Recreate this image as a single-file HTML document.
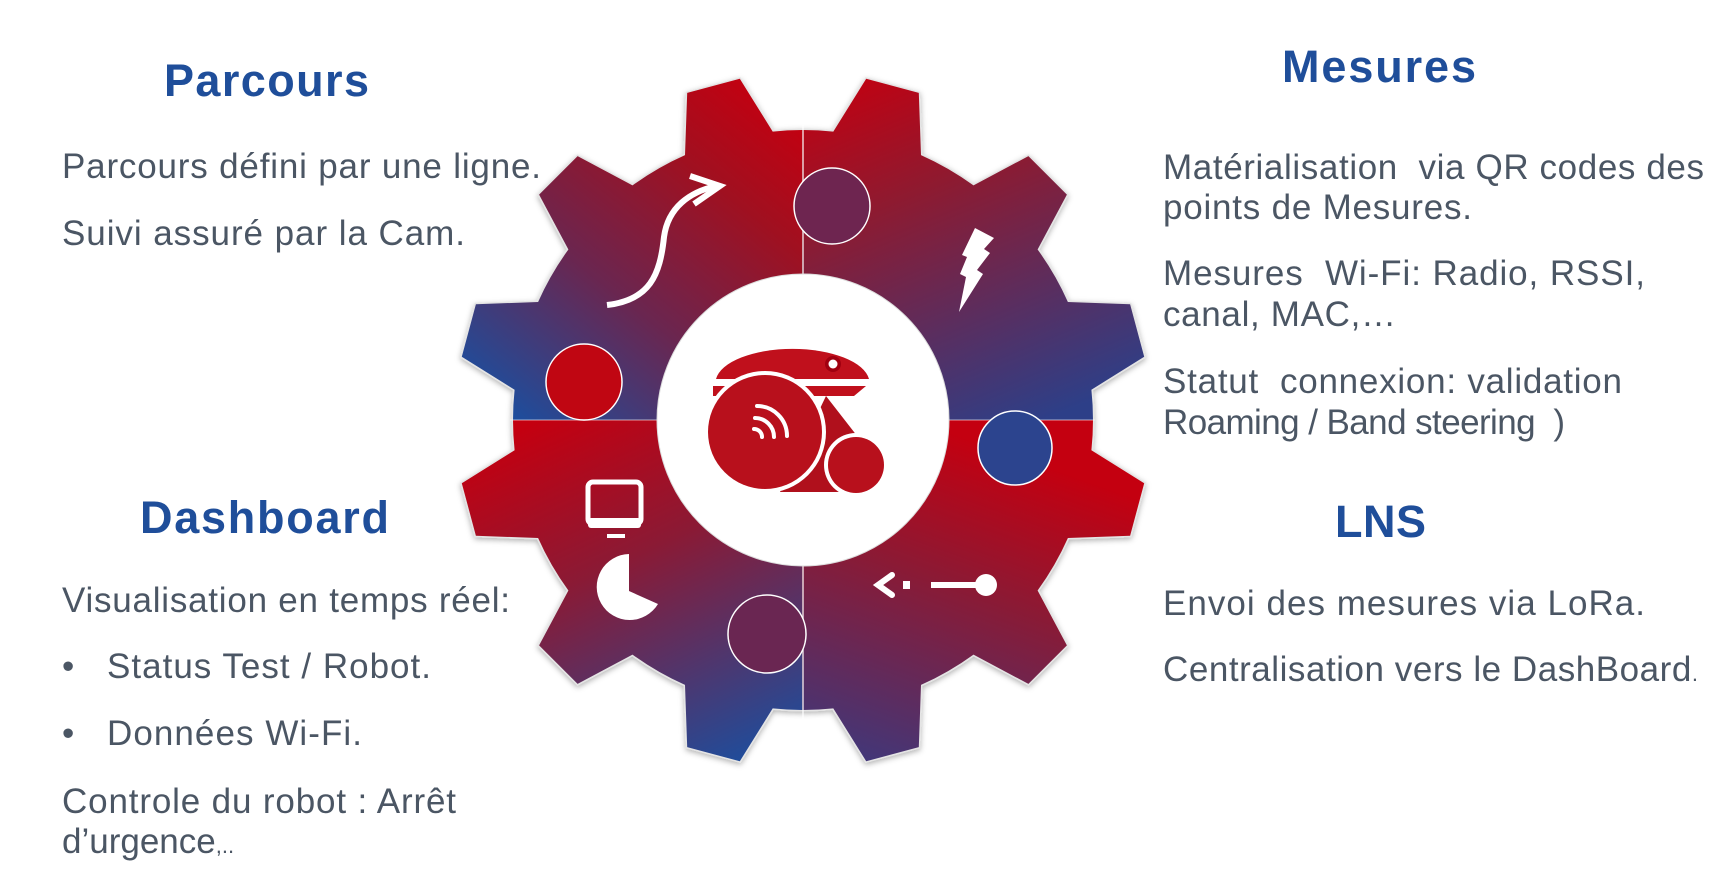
<!DOCTYPE html>
<html><head><meta charset="utf-8"><style>
html,body{margin:0;padding:0;background:#fff;}
svg{display:block;}
.t{font-family:"Liberation Sans",Arial,sans-serif;font-weight:bold;font-size:45px;fill:#1f4e9a;}
.b{font-family:"Liberation Sans",Arial,sans-serif;font-size:35px;fill:#4b5664;white-space:pre;}
</style></head><body>
<svg id="s" width="1714" height="874" viewBox="0 0 1714 874" xmlns="http://www.w3.org/2000/svg">
<defs>
<linearGradient id="gTL" gradientUnits="userSpaceOnUse" x1="740" y1="70" x2="480" y2="400"><stop offset="0" stop-color="#c40010"/><stop offset="0.25" stop-color="#a01020"/><stop offset="0.6" stop-color="#6a2650"/><stop offset="1" stop-color="#1a4fa0"/></linearGradient>
<linearGradient id="gTR" gradientUnits="userSpaceOnUse" x1="870" y1="60" x2="1020" y2="430"><stop offset="0" stop-color="#c40010"/><stop offset="0.35" stop-color="#8e1a30"/><stop offset="1" stop-color="#2d3f88"/></linearGradient>
<linearGradient id="gBR" gradientUnits="userSpaceOnUse" x1="1000" y1="450" x2="880" y2="790"><stop offset="0" stop-color="#c40010"/><stop offset="0.4" stop-color="#8a1a35"/><stop offset="1" stop-color="#3a3a80"/></linearGradient>
<linearGradient id="gBL" gradientUnits="userSpaceOnUse" x1="540" y1="420" x2="710" y2="790"><stop offset="0" stop-color="#c40010"/><stop offset="0.4" stop-color="#8a1a35"/><stop offset="1" stop-color="#1a4fa0"/></linearGradient>
<clipPath id="cTL"><rect x="0" y="0" width="802" height="420"/></clipPath>
<clipPath id="cTR"><rect x="802" y="0" width="900" height="420"/></clipPath>
<clipPath id="cBR"><rect x="802" y="420" width="900" height="500"/></clipPath>
<clipPath id="cBL"><rect x="0" y="420" width="802" height="500"/></clipPath>
<filter id="sh" x="-10%" y="-10%" width="120%" height="120%"><feDropShadow dx="0" dy="2" stdDeviation="3" flood-color="#000" flood-opacity="0.3"/></filter>
</defs>
<g id="gear"></g>

<text class="t" x="164" y="96" textLength="205">Parcours</text>
<text class="b" x="62" y="178" textLength="479">Parcours défini par une ligne.</text>
<text class="b" x="62" y="245" textLength="403">Suivi assuré par la Cam.</text>
<text class="t" x="140" y="533" textLength="249">Dashboard</text>
<text class="b" x="62" y="612" textLength="448">Visualisation en temps réel:</text>
<text class="b" x="62" y="678">•</text>
<text class="b" x="107" y="678" textLength="324">Status Test / Robot.</text>
<text class="b" x="62" y="745">•</text>
<text class="b" x="107" y="745" textLength="255">Données Wi-Fi.</text>
<text class="b" x="62" y="813" textLength="394">Controle du robot : Arrêt</text>
<text class="b" x="62" y="853">d’urgence<tspan font-size="22">,..</tspan></text>

<text class="t" x="1282" y="82" textLength="194">Mesures</text>
<text class="b" x="1163" y="179" textLength="541">Matérialisation  via QR codes des</text>
<text class="b" x="1163" y="219" textLength="309">points de Mesures.</text>
<text class="b" x="1163" y="285" textLength="482">Mesures  Wi-Fi: Radio, RSSI,</text>
<text class="b" x="1163" y="326" textLength="233">canal, MAC,…</text>
<text class="b" x="1163" y="393" textLength="459">Statut  connexion: validation</text>
<text class="b" x="1163" y="434" textLength="402">Roaming / Band steering  )</text>
<text class="t" x="1335" y="537" textLength="91">LNS</text>
<text class="b" x="1163" y="615" textLength="482">Envoi des mesures via LoRa.</text>
<text class="b" x="1163" y="681" textLength="535">Centralisation vers le DashBoard<tspan font-size="22">.</tspan></text>
</svg>
<script>
(function(){
var cx=803,cy=420,r0=290,r1=347;
function P(r,a){a=(a-90)*Math.PI/180;return (cx+r*Math.cos(a)).toFixed(1)+","+(cy+r*Math.sin(a)).toFixed(1);}
var d="";
for(var k=0;k<12;k++){var a=15+30*k;
 if(k==0)d+="M"+P(r0,a-9);else d+=" A"+r0+","+r0+" 0 0 1 "+P(r0,a-9);
 d+=" L"+P(r1,a-4.5)+" L"+P(r1,a+4.5)+" L"+P(r0,a+9);}
d+=" A"+r0+","+r0+" 0 0 1 "+P(r0,15-9)+"Z";
var g=document.getElementById("gear");
var h='';
h+='<path d="'+d+'" fill="#fff" stroke="#e4e4e4" stroke-width="3" filter="url(#sh)"/>';
[["cTL","gTL"],["cTR","gTR"],["cBR","gBR"],["cBL","gBL"]].forEach(function(q){
 h+='<path d="'+d+'" fill="url(#'+q[1]+')" clip-path="url(#'+q[0]+')"/>';});
h+='<line x1="803" y1="120" x2="803" y2="720" stroke="#fff" stroke-width="1.5" opacity="0.8"/>';
h+='<line x1="510" y1="420" x2="1095" y2="420" stroke="#fff" stroke-width="1.5" opacity="0.4"/>';
h+='<circle cx="832" cy="206" r="38" fill="#6e2550" stroke="#fff" stroke-width="1.5"/>';
h+='<circle cx="584" cy="382" r="38" fill="#c00612" stroke="#fff" stroke-width="1.5"/>';
h+='<circle cx="1015" cy="448" r="37" fill="#2c448e" stroke="#fff" stroke-width="1.5"/>';
h+='<circle cx="767" cy="634" r="39" fill="#6a2652" stroke="#fff" stroke-width="1.5"/>';
h+='<circle cx="803" cy="420" r="146" fill="#fff" stroke="#ddd" stroke-width="1"/>';
// robot logo
h+='<path d="M716,379 A77,34 0 0 1 869,379 Z" fill="#c0101c"/>';
h+='<circle cx="833" cy="364" r="8" fill="#a00010"/><circle cx="833" cy="364" r="4.5" fill="#fff"/>';
h+='<path d="M713,386 L866,386 L854,396 L713,396 Z" fill="#c0101c"/>';
h+='<path d="M826,396 L868,450 L840,492 L780,492 Z" fill="#b0101c"/>';
h+='<circle cx="765" cy="432" r="61" fill="#fff"/><circle cx="765" cy="432" r="57" fill="#b8101c"/>';
h+='<circle cx="856" cy="465" r="32" fill="#fff"/><circle cx="856" cy="465" r="28" fill="#b8101c"/>';
h+='<g fill="none" stroke="#fff" stroke-width="4" stroke-linecap="round"><path d="M754,429 a8,8 0 0 1 8,8"/><path d="M755,418 a19,19 0 0 1 19,19"/><path d="M757,406 a30,30 0 0 1 30,30"/></g>';
// icons
h+='<path d="M607,305 C650,300 660,275 664,237 C668,207 690,192 716,186" fill="none" stroke="#fff" stroke-width="6"/>';
h+='<path d="M690,176 L720,186 L694,204" fill="none" stroke="#fff" stroke-width="6"/>';
h+='<path d="M975,228 L994,238 L984,249 L990,253 L977,270 L983,274 L959,312 L966,277 L960,274 L967,257 L962,255 Z" fill="#fff"/>';
h+='<rect x="588" y="482" width="53" height="42" rx="5" fill="none" stroke="#fff" stroke-width="5"/>';
h+='<rect x="588" y="518" width="53" height="10" rx="3" fill="#fff"/><rect x="607" y="534" width="18" height="4" fill="#fff"/>';
h+='<path d="M629,554 L629,591 L658,604 A33,33 0 1 1 629,554 Z" fill="#fff"/>';
h+='<path d="M892,575 L878,585 L892,595" fill="none" stroke="#fff" stroke-width="6" stroke-linecap="round"/>';
h+='<rect x="903" y="581" width="7" height="8" fill="#fff"/>';
h+='<rect x="931" y="582" width="52" height="6" fill="#fff"/><circle cx="986" cy="585" r="11" fill="#fff"/>';
g.innerHTML=h;
})();
</script>
</body></html>
